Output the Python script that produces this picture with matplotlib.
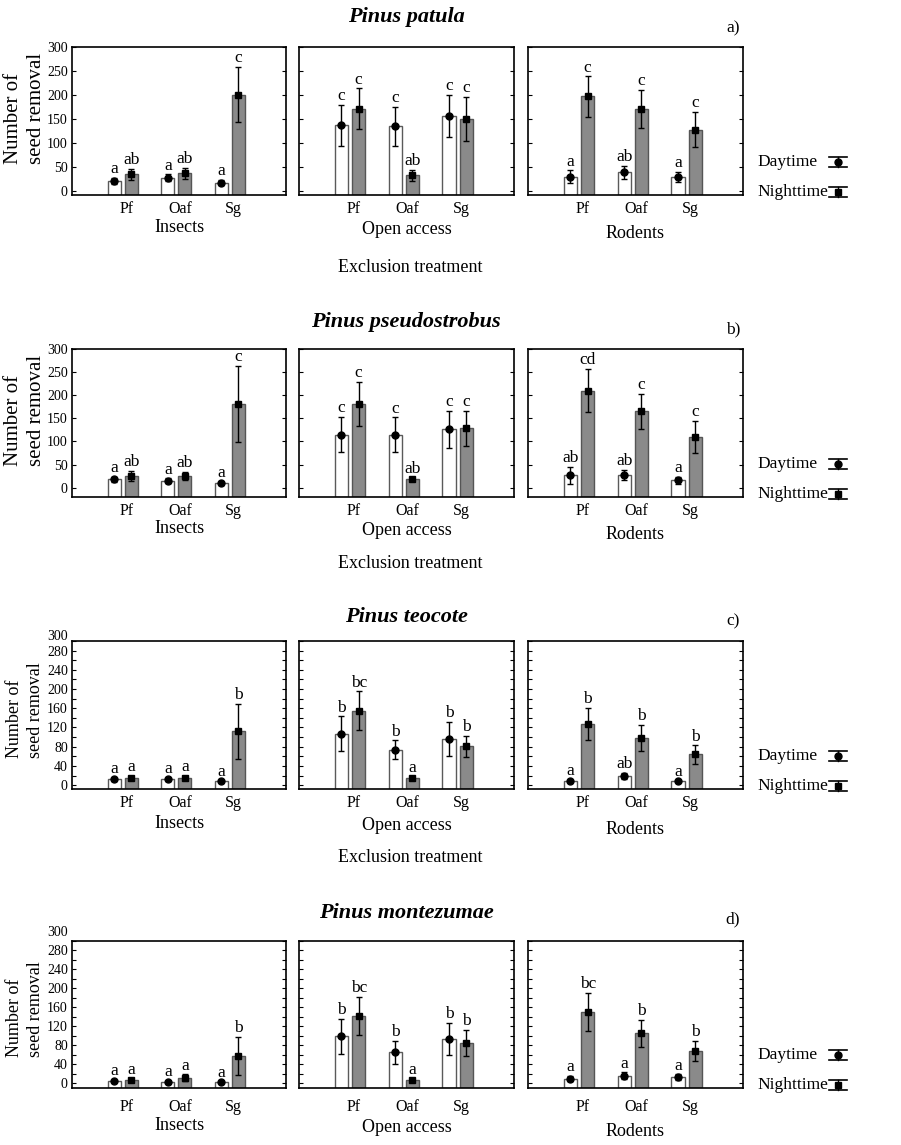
import matplotlib.pyplot as plt
from matplotlib.lines import Line2D
import numpy as np

plt.rcParams['font.family'] = ['Liberation Serif', 'DejaVu Serif']

W, H = 901, 1145

species = ["Pinus patula", "Pinus pseudostrobus", "Pinus teocote", "Pinus montezumae"]
panel_tags = ["a)", "b)", "c)", "d)"]
exclusions = ["Insects", "Open access", "Rodents"]
sources = ["Pf", "Oaf", "Sg"]

# each list: [Insects, Open access, Rodents] x [Pf, Oaf, Sg]
patula_day = [[21, 28, 18], [137, 135, 157], [30, 39, 30]]
patula_day_err = [[7, 7, 6], [43, 40, 44], [13, 14, 10]]
patula_night = [[35, 37, 201], [172, 33, 150], [197, 171, 128]]
patula_night_err = [[11, 12, 57], [42, 12, 46], [42, 40, 37]]
patula_day_let = [["a", "a", "a"], ["c", "c", "c"], ["a", "ab", "a"]]
patula_night_let = [["ab", "ab", "c"], ["c", "ab", "c"], ["c", "c", "c"]]

pseudo_day = [[18, 15, 10], [115, 115, 127], [27, 28, 16]]
pseudo_day_err = [[6, 5, 3], [38, 37, 40], [18, 11, 8]]
pseudo_night = [[25, 25, 181], [181, 18, 129], [210, 165, 110]]
pseudo_night_err = [[11, 9, 82], [48, 4, 38], [47, 38, 34]]
pseudo_day_let = [["a", "a", "a"], ["c", "c", "c"], ["ab", "ab", "a"]]
pseudo_night_let = [["ab", "ab", "c"], ["c", "ab", "c"], ["cd", "c", "c"]]

teocote_day = [[12, 12, 8], [107, 74, 96], [9, 19, 8]]
teocote_day_err = [[3, 3, 2], [36, 19, 36], [2, 7, 2]]
teocote_night = [[15, 15, 112], [155, 14, 81], [127, 98, 64]]
teocote_night_err = [[4, 4, 57], [40, 3, 22], [34, 27, 19]]
teocote_day_let = [["a", "a", "a"], ["b", "b", "b"], ["a", "ab", "a"]]
teocote_night_let = [["a", "a", "b"], ["bc", "a", "b"], ["b", "b", "b"]]

montez_day = [[5, 3, 2], [99, 65, 93], [10, 16, 13]]
montez_day_err = [[2, 1.5, 1], [37, 25, 34], [6, 7, 6]]
montez_night = [[7, 12, 58], [142, 7, 85], [150, 105, 68]]
montez_night_err = [[2, 7, 40], [40, 2, 28], [40, 29, 22]]
montez_day_let = [["a", "a", "a"], ["b", "b", "b"], ["a", "a", "a"]]
montez_night_let = [["a", "a", "b"], ["bc", "a", "b"], ["bc", "b", "b"]]

rows = [
    (patula_day, patula_day_err, patula_night, patula_night_err, patula_day_let, patula_night_let),
    (pseudo_day, pseudo_day_err, pseudo_night, pseudo_night_err, pseudo_day_let, pseudo_night_let),
    (teocote_day, teocote_day_err, teocote_night, teocote_night_err, teocote_day_let, teocote_night_let),
    (montez_day, montez_day_err, montez_night, montez_night_err, montez_day_let, montez_night_let),
]

# layout (pixels)
row_top = [47, 349, 641, 941]
row_bottom = [195, 497, 789, 1088]
col_left = [72, 299, 528]
col_right = [286, 514, 743]
y_low = [-8, -20, -8, -10]
title_y = [17, 322, 617, 913]
tag_y = [28, 329, 621, 919]
excl_y = [267, 563, 857, None]
tick_pad = [4.5, 4, 4.5, 8]
label_extra = [0, 0, 2, 6]
col_label_off = [32, 34, 38]
ylab_size = [15, 15, 13, 13]
top_label_shift = [0, 0, 5, 9]


def fx(px):
    return px / W


def fy(py):
    return 1 - py / H


fig = plt.figure(figsize=(W / 100, H / 100), dpi=100)

x = np.arange(len(sources))
off = 0.16
bw = 0.245

for r in range(4):
    day, day_err, night, night_err, day_let, night_let = rows[r]
    lo = y_low[r]
    for c in range(3):
        ax = fig.add_axes([fx(col_left[c]), fy(row_bottom[r]),
                           (col_right[c] - col_left[c]) / W,
                           (row_bottom[r] - row_top[r]) / H])
        d = np.array(day[c], dtype=float)
        n = np.array(night[c], dtype=float)
        ax.bar(x - off, d - lo, bottom=lo, width=bw, color='white',
               edgecolor='#5a5a5a', linewidth=1, zorder=2)
        ax.bar(x + off, n - lo, bottom=lo, width=bw, color='#8a8a8a',
               edgecolor='#555555', linewidth=1, zorder=2)
        ax.errorbar(x - off, d, yerr=day_err[c], fmt='o', color='black', ms=5,
                    capsize=2.5, elinewidth=1, capthick=1, zorder=3)
        ax.errorbar(x + off, n, yerr=night_err[c], fmt='s', color='black', ms=5,
                    capsize=2.5, elinewidth=1, capthick=1, zorder=3)
        for i in range(3):
            ax.annotate(day_let[c][i], (x[i] - off, d[i] + day_err[c][i]),
                        xytext=(0, 0.5), textcoords='offset points',
                        ha='center', va='bottom', fontsize=12.5)
            ax.annotate(night_let[c][i], (x[i] + off, n[i] + night_err[c][i]),
                        xytext=(0, 0.5), textcoords='offset points',
                        ha='center', va='bottom', fontsize=12.5)

        ax.set_xlim(-0.95, 3.05)
        ax.set_ylim(lo, 300)
        ax.set_xticks(x + 0.07)
        ax.set_xticklabels(sources, fontsize=11.5)
        ax.tick_params(axis='x', length=0, pad=tick_pad[r])
        if r < 2:
            ticks = list(range(0, 301, 50))
            ax.set_yticks(ticks)
            labels = [str(t) for t in ticks]
        else:
            ticks = [0, 40, 80, 120, 160, 200, 240, 280, 300]
            ax.set_yticks(ticks)
            ax.set_yticks(np.arange(20, 300, 40), minor=True)
            labels = [str(t) for t in ticks[:-1]] + [""]
        ax.set_yticklabels(labels)
        ax.tick_params(axis='y', which='both', direction='in', left=True,
                       right=True, length=3, width=0.8, labelsize=10, pad=3)
        if c > 0:
            ax.tick_params(axis='y', labelleft=False)
        elif r >= 2:
            ax.annotate("300", xy=(0, 300), xycoords=('axes fraction', 'data'),
                        xytext=(-4, top_label_shift[r]), textcoords='offset pixels',
                        ha='right', va='center', fontsize=10)
        for s in ax.spines.values():
            s.set_linewidth(1.2)

        ax.annotate(exclusions[c], xy=(0.5, 0), xycoords='axes fraction',
                    xytext=(0, -(col_label_off[c] + label_extra[r])),
                    textcoords='offset pixels', ha='center', va='center',
                    fontsize=13)

    # y label
    fig.text(fx(25), fy(row_bottom[r] - 31), "Number of\nseed removal", rotation=90,
             ha='center', va='bottom', multialignment='left',
             fontsize=ylab_size[r], linespacing=1.25)

    fig.text(fx(406), fy(title_y[r]), species[r], fontsize=16,
             fontweight='bold', fontstyle='italic', ha='center', va='center')
    fig.text(fx(733), fy(tag_y[r]), panel_tags[r], fontsize=12.5,
             ha='center', va='center')
    if excl_y[r] is not None:
        fig.text(fx(410), fy(excl_y[r]), "Exclusion treatment", fontsize=13,
                 ha='center', va='center')

    # legend keys
    for k, (lab, mk) in enumerate([("Daytime", 'o'), ("Nighttime", 's')]):
        yy = row_bottom[r] - 33 + 30 * k
        fig.text(fx(757), fy(yy), lab, fontsize=12.5, ha='left', va='center')
        for dy in (-5, 5):
            fig.add_artist(Line2D([fx(829), fx(847)], [fy(yy + dy)] * 2,
                                  color='black', lw=1.2))
        fig.add_artist(Line2D([fx(838)] * 2, [fy(yy - 5), fy(yy + 5)],
                              color='black', lw=1))
        fig.add_artist(Line2D([fx(838)], [fy(yy)], marker=mk, ms=5,
                              color='black', linestyle='none'))

fig.savefig('out.png', dpi=100)
